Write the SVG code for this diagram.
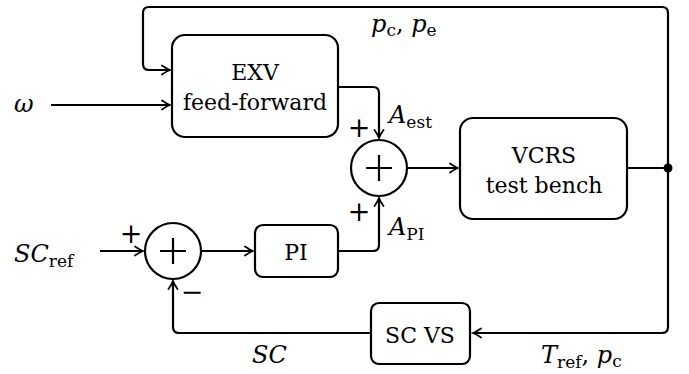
<svg xmlns="http://www.w3.org/2000/svg" width="689" height="374" viewBox="0 0 689 374">
<defs>
<marker id="arr" markerWidth="12" markerHeight="12" viewBox="-10 -6 12 12" refX="0" refY="0" orient="auto" markerUnits="userSpaceOnUse">
<path d="M -8 -4.5 Q -3 -1 0 0 Q -3 1 -8 4.5" fill="none" stroke="#000" stroke-width="1.8" stroke-linecap="round"/>
</marker>
</defs>
<style>
.box{fill:#fff;stroke:#000;stroke-width:2.2}
.w{fill:none;stroke:#000;stroke-width:2.2}
.t{font-family:'DejaVu Serif',serif;font-size:22px;fill:#000;text-anchor:middle}
.m{font-family:'DejaVu Serif',serif;font-size:24px;fill:#000;font-style:italic}
.s{font-style:normal;font-size:17px}
.p{font-family:'DejaVu Serif',serif;font-size:27px;fill:#000;text-anchor:middle}
</style>
<g id="connectors">
<path class="w" d="M668,168 V13 Q668,7 662,7 H149 Q143,7 143,13 V64 Q143,70 149,70 H170" marker-end="url(#arr)"/>
<path class="w" d="M51,105 H170" marker-end="url(#arr)"/>
<path class="w" d="M338,87 H373 Q379,87 379,93 V138" marker-end="url(#arr)"/>
<path class="w" d="M407,168 H458" marker-end="url(#arr)"/>
<path class="w" d="M627,168 H668"/>
<path class="w" d="M668,168 V327 Q668,333 662,333 H473" marker-end="url(#arr)"/>
<path class="w" d="M371,333 H179 Q173,333 173,327 V281" marker-end="url(#arr)"/>
<path class="w" d="M100,251 H143" marker-end="url(#arr)"/>
<path class="w" d="M201,251 H253" marker-end="url(#arr)"/>
<path class="w" d="M338,251 H373 Q379,251 379,245 V198" marker-end="url(#arr)"/>
<circle cx="668" cy="168" r="4.5" fill="#000"/>
</g>
<g id="exv">
<rect class="box" x="172" y="35" width="166" height="102" rx="13"/>
<text class="t" x="255" y="80">EXV</text>
<text class="t" x="255" y="110">feed-forward</text>
</g>
<g id="sum1">
<circle class="box" cx="379" cy="168" r="28"/>
<path class="w" d="M366,168 H392 M379,155 V181"/>
</g>
<g id="vcrs">
<rect class="box" x="460" y="118" width="167" height="101" rx="13"/>
<text class="t" x="544" y="163">VCRS</text>
<text class="t" x="544" y="193">test bench</text>
</g>
<g id="sum2">
<circle class="box" cx="173" cy="251" r="28"/>
<path class="w" d="M160,251 H186 M173,238 V264"/>
</g>
<g id="pi">
<rect class="box" x="255" y="225" width="83" height="52" rx="8"/>
<text class="t" x="296" y="260">PI</text>
</g>
<g id="scvs">
<rect class="box" x="371" y="303" width="99" height="61" rx="8"/>
<text class="t" x="420" y="343">SC VS</text>
</g>
<g id="labels">
<text class="m" x="14" y="112">ω</text>
<text class="m" x="371" y="32">p<tspan class="s" dy="4">c</tspan><tspan dy="-4" font-style="normal">, </tspan>p<tspan class="s" dy="4">e</tspan></text>
<text class="m" x="389" y="123">A<tspan class="s" dy="5">est</tspan></text>
<text class="m" x="389" y="235">A<tspan class="s" dy="5">PI</tspan></text>
<text class="m" x="14" y="262">SC<tspan class="s" dy="5">ref</tspan></text>
<text class="m" x="252" y="363">SC</text>
<text class="m" x="541" y="363">T<tspan class="s" dy="5">ref</tspan><tspan dy="-5" font-style="normal">, </tspan>p<tspan class="s" dy="4">c</tspan></text>
<text class="p" x="359" y="137">+</text>
<text class="p" x="359" y="221">+</text>
<text class="p" x="131" y="243">+</text>
<text class="p" x="192" y="301">−</text>
</g>
</svg>
